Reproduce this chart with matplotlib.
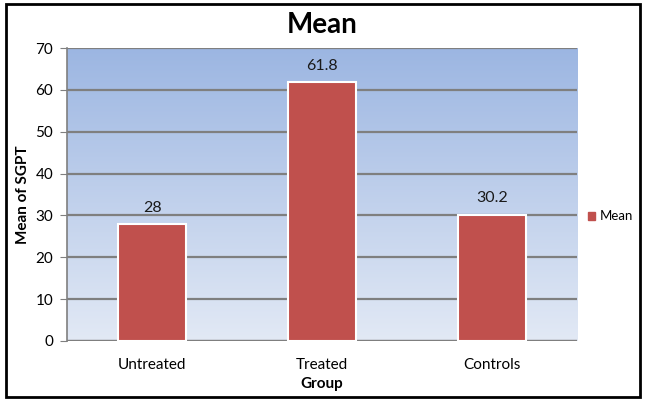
import numpy as np
import matplotlib
matplotlib.use("Agg")
import matplotlib.pyplot as plt
import matplotlib.patches as mpatches
from matplotlib.colors import LinearSegmentedColormap

# ── data ─────────────────────────────────────────────────────────────────────
groups = ["Untreated", "Treated", "Controls"]
means = [28, 61.8, 30.2]
value_labels = ["28", "61.8", "30.2"]

BAR_COLOR = "#c0504d"
GRID = "#7f7f7f"
plt.rcParams["font.family"] = ["Lato", "DejaVu Sans"]

fig = plt.figure(figsize=(6.45, 4.01), dpi=100)
fig.patch.set_facecolor("white")
ax = fig.add_axes([0.104, 0.150, 0.791, 0.730])

# blue gradient plot area
cmap = LinearSegmentedColormap.from_list("bg", ["#e2e9f5", "#9cb6e2"])
grad = np.linspace(0, 1, 256).reshape(-1, 1)
ax.imshow(grad, aspect="auto", cmap=cmap, origin="lower",
          extent=(-0.5, 2.5, 0, 70), zorder=0)

x = np.arange(len(groups))
bars = ax.bar(x, means, width=0.4, color=BAR_COLOR, edgecolor="white",
              linewidth=1.5, zorder=3, label="Mean")

for bar, lab in zip(bars, value_labels):
    ax.text(bar.get_x() + bar.get_width() / 2, bar.get_height() + 2.2, lab,
            ha="center", va="bottom", fontsize=11.5, color="#1a1a1a", zorder=4)

ax.set_xlim(-0.5, 2.5)
ax.set_ylim(0, 70)
ax.set_yticks(range(0, 71, 10))
ax.yaxis.grid(True, color=GRID, linewidth=1.6, zorder=1)
ax.set_axisbelow(True)
ax.set_xticks(x)
ax.set_xticklabels(groups, fontsize=11)
ax.tick_params(axis="y", labelsize=11, length=5, color=GRID, pad=5)
ax.tick_params(axis="x", length=0, pad=12)

for side in ["top", "right", "bottom"]:
    ax.spines[side].set_visible(False)
ax.spines["left"].set_color(GRID)
ax.spines["left"].set_linewidth(1.2)
ax.axhline(0, color=GRID, linewidth=1.6, zorder=2)

ax.set_xlabel("Group", fontsize=11, fontweight="bold", labelpad=4)
ax.set_ylabel("Mean of SGPT", fontsize=11, fontweight="bold", labelpad=4)
fig.text(0.5, 0.938, "Mean", ha="center", va="center",
         fontsize=20, fontweight="bold")

ax.legend(handles=[mpatches.Patch(color=BAR_COLOR, label="Mean")],
          loc="center left", bbox_to_anchor=(0.998, 0.425), frameon=False,
          fontsize=9.5, handlelength=0.5, handleheight=0.5, handletextpad=0.4)

# outer frame
fig.patches.append(mpatches.Rectangle((0.010, 0.010), 0.982, 0.980,
                                      transform=fig.transFigure, fill=False,
                                      edgecolor="black", linewidth=2))

fig.savefig("out.png", dpi=100)
